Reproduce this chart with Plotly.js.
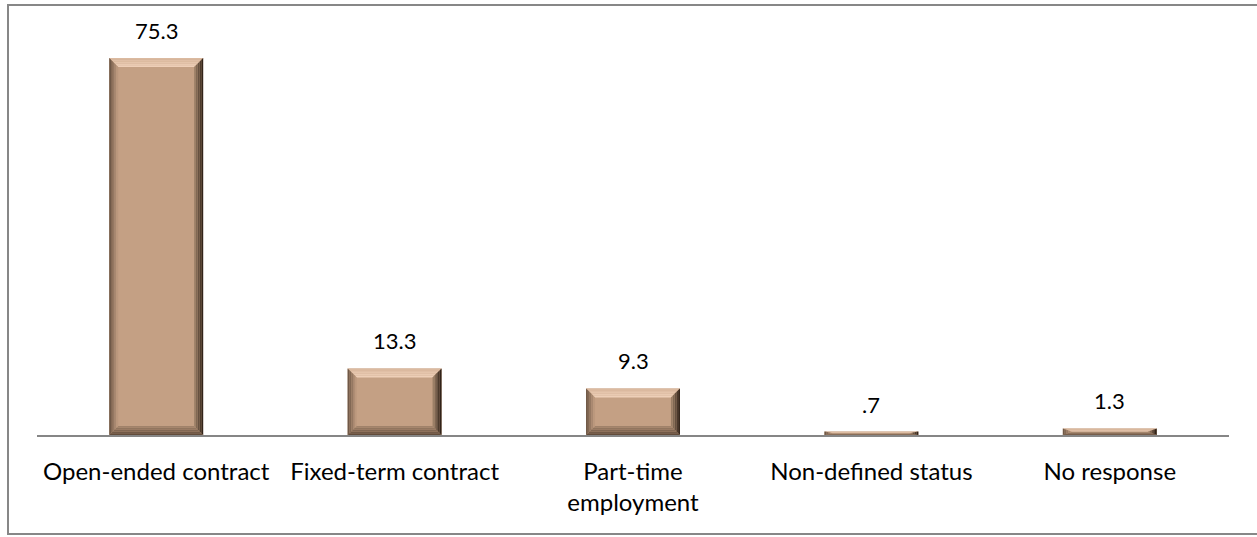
<!DOCTYPE html>
<html>
<head>
<meta charset="utf-8">
<script src="https://cdn.plot.ly/plotly-3.0.1.min.js"></script>
<style>
  html, body { margin: 0; padding: 0; background: #ffffff; }
  #frame { position: absolute; left: 7px; top: 4px; width: 1262px; height: 531px;
           border: 2px solid #878787; box-sizing: border-box; }
  #chart { position: absolute; left: 0; top: 0; width: 1257px; height: 537px; }
</style>
</head>
<body>
<div id="frame"></div>
<div id="chart"></div>
<script>
// ---- data ----
const categories = ["Open-ended contract", "Fixed-term contract", "Part-time employment", "Non-defined status", "No response"];
const tickLabels = ["Open-ended contract", "Fixed-term contract", "Part-time<br>employment", "Non-defined status", "No response"];
const values = [75.3, 13.3, 9.3, 0.7, 1.3];
const valueLabels = ["75.3", "13.3", "9.3", ".7", "1.3"];

// ---- style ----
const FONT = "Lato, 'Liberation Sans', sans-serif";
const FS = 24;
const FACE = "#c4a084";
const BAR_W = 0.394;
const W = 1257, H = 537;
const M = { l: 37, r: 28, t: 35, b: 102 };
const YMAX = 79.9;
const plotW = W - M.l - M.r, plotH = H - M.t - M.b;
const pxPerCat = plotW / categories.length;
const pxPerUnit = plotH / YMAX;

function hex2rgb(h) { return [1,3,5].map(i => parseInt(h.substr(i,2),16)); }
function mix(a, b, t) {
  const A = hex2rgb(a), B = hex2rgb(b);
  return "rgb(" + A.map((v,i) => Math.round(v + (B[i]-v)*t)).join(",") + ")";
}

const shapes = [];
const N = 5;
const sides = {
  top:    ["#d9b79d", "#f0d2bb"],
  right:  ["#24180f", "#a88a70"],
  bottom: ["#5a4535", "#a88970"],
  left:   ["#665040", "#c4a084"]
};
values.forEach((v, i) => {
  const x0 = i - BAR_W/2, x1 = i + BAR_W/2;
  const dxT = 9 / pxPerCat;
  const dyT = Math.min(9 / pxPerUnit, v/2);
  for (let k = 0; k < N; k++) {
    const a = k/N, b = (k+1)/N;
    const col = (s) => mix(sides[s][0], sides[s][1], (k+0.5)/N);
    const xa0 = x0 + dxT*a, xb0 = x0 + dxT*b;
    const xa1 = x1 - dxT*a, xb1 = x1 - dxT*b;
    const ya0 = 0 + dyT*a, yb0 = 0 + dyT*b;
    const ya1 = v - dyT*a, yb1 = v - dyT*b;
    const polys = {
      top:    [[xa0,ya1],[xa1,ya1],[xb1,yb1],[xb0,yb1]],
      right:  [[xa1,ya1],[xa1,ya0],[xb1,yb0],[xb1,yb1]],
      bottom: [[xa0,ya0],[xa1,ya0],[xb1,yb0],[xb0,yb0]],
      left:   [[xa0,ya0],[xa0,ya1],[xb0,yb1],[xb0,yb0]]
    };
    Object.keys(polys).forEach(s => {
      const p = polys[s];
      shapes.push({
        type: "path", xref: "x", yref: "y", layer: "above",
        path: "M" + p.map(q => q[0] + "," + q[1]).join("L") + "Z",
        fillcolor: col(s), line: { width: 0 }
      });
    });
  }
});

const annotations = values.map((v, i) => ({
  x: categories[i], y: v, xref: "x", yref: "y",
  text: valueLabels[i], showarrow: false, yanchor: "bottom", yshift: 12,
  font: { family: FONT, size: 22, color: "#000000" }
}));

const trace = {
  type: "bar", x: categories, y: values, width: BAR_W,
  marker: { color: FACE, line: { width: 0 } },
  hoverinfo: "none"
};

const layout = {
  width: W, height: H,
  margin: M,
  paper_bgcolor: "rgba(0,0,0,0)", plot_bgcolor: "rgba(0,0,0,0)",
  showlegend: false,
  font: { family: FONT, size: FS, color: "#000000" },
  xaxis: {
    type: "category", tickmode: "array", tickvals: categories, ticktext: tickLabels,
    showline: true, linecolor: "#868686", linewidth: 2, ticks: "", showgrid: false,
    zeroline: false, ticklabelstandoff: 14, tickfont: { family: FONT, size: FS, color: "#000000" },
    range: [-0.5, categories.length - 0.5], fixedrange: true
  },
  yaxis: { visible: false, range: [0, YMAX], showgrid: false, zeroline: false, fixedrange: true },
  shapes: shapes,
  annotations: annotations
};

Plotly.newPlot("chart", [trace], layout, { displayModeBar: false, staticPlot: true });
</script>
</body>
</html>
